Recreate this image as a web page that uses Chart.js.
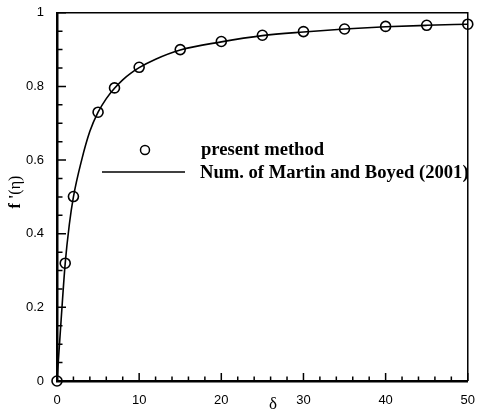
<!DOCTYPE html>
<html lang="en">
<head>
  <meta charset="UTF-8">
  <title>f'(eta) vs delta</title>
  <script src="https://cdn.jsdelivr.net/npm/chart.js@4.4.0/dist/chart.umd.min.js"></script>
  <style>
    body { margin: 0; background: #fff; }
    .chart-container { width: 479px; height: 419px; position: relative; }
  </style>
</head>
<body>
  <div class="chart-container">
    <canvas id="fpChart"></canvas>
  </div>

  <script>
    // circles: present method
    const presentX = [0, 1, 2, 5, 7, 10, 15, 20, 25, 30, 35, 40, 45, 50];
    const presentY = [0, 0.32, 0.501, 0.73, 0.796, 0.852, 0.9, 0.922, 0.939, 0.949, 0.956, 0.963, 0.966, 0.969];

    // solid line: Martin and Boyed (2001)
    const martinX = [0, 0.5, 1, 1.5, 2, 3, 4, 5, 6, 7, 8, 9, 10, 12, 15, 20, 25, 30, 35, 40, 45, 50];
    const martinY = [0, 0.165, 0.32, 0.425, 0.5, 0.6, 0.678, 0.73, 0.767, 0.795, 0.818, 0.836, 0.851, 0.874, 0.899, 0.921, 0.938, 0.948, 0.956, 0.962, 0.966, 0.969];

    const xTicks = [0, 10, 20, 30, 40, 50];
    const xTickLabels = ['0', '10', '20', '30', '40', '50'];
    const yTicks = [0, 0.2, 0.4, 0.6, 0.8, 1];
    const yTickLabels = ['0', '0.2', '0.4', '0.6', '0.8', '1'];

    const legendLabels = ['present method', 'Num. of Martin and Boyed (2001)'];

    const toPts = (xs, ys) => xs.map((x, i) => ({ x: x, y: ys[i] }));

    // inward tick marks, titles and the legend
    const decorPlugin = {
      id: 'decor',
      afterDraw(chart) {
        const ctx = chart.ctx;
        const xs = chart.scales.x, ys = chart.scales.y;
        const a = chart.chartArea;
        ctx.save();
        ctx.strokeStyle = '#000';
        ctx.lineWidth = 1.5;
        ctx.beginPath();
        for (let v = 0; v <= 50; v += 2) {
          const px = xs.getPixelForValue(v);
          const len = v % 10 === 0 ? 8 : 4.5;
          ctx.moveTo(px, a.bottom);
          ctx.lineTo(px, a.bottom - len);
        }
        for (let i = 0; i <= 20; i++) {
          const v = i * 0.05;
          const py = ys.getPixelForValue(v);
          const len = i % 4 === 0 ? 9 : 5.5;
          ctx.moveTo(a.left, py);
          ctx.lineTo(a.left + len, py);
        }
        ctx.stroke();

        // top / right frame
        ctx.beginPath();
        ctx.moveTo(a.left, a.top);
        ctx.lineTo(a.right, a.top);
        ctx.lineTo(a.right, a.bottom);
        ctx.stroke();

        ctx.fillStyle = '#000';
        // x title
        ctx.font = '17px "Liberation Serif"';
        ctx.textAlign = 'center';
        ctx.textBaseline = 'middle';
        ctx.fillText('δ', 273, 405);

        // y title
        ctx.translate(16, 192);
        ctx.rotate(-Math.PI / 2);
        ctx.textAlign = 'left';
        const p1 = "f '";
        const p2 = '(η)';
        ctx.font = 'bold 16px "Liberation Serif"';
        const w1 = ctx.measureText(p1).width;
        ctx.font = '16px "Liberation Serif"';
        const w2 = ctx.measureText(p2).width;
        const sx = -(w1 + w2) / 2;
        ctx.font = 'bold 16px "Liberation Serif"';
        ctx.fillText(p1, sx, 0);
        ctx.font = '16px "Liberation Serif"';
        ctx.fillText(p2, sx + w1, 0);
        ctx.setTransform(1, 0, 0, 1, 0, 0);

        // legend
        ctx.lineWidth = 1.5;
        ctx.beginPath();
        ctx.arc(145, 150, 4.5, 0, Math.PI * 2);
        ctx.stroke();
        ctx.beginPath();
        ctx.moveTo(102, 172);
        ctx.lineTo(185, 172);
        ctx.stroke();
        ctx.font = 'bold 18.6px "Liberation Serif"';
        ctx.textAlign = 'left';
        ctx.textBaseline = 'alphabetic';
        ctx.fillText(legendLabels[0], 201, 155);
        ctx.fillText(legendLabels[1], 200, 178);
        ctx.restore();
      }
    };

    new Chart(document.getElementById('fpChart'), {
      type: 'scatter',
      data: {
        datasets: [
          {
            label: legendLabels[1],
            data: toPts(martinX, martinY),
            showLine: true,
            borderColor: '#000',
            borderWidth: 1.6,
            pointRadius: 0,
            cubicInterpolationMode: 'monotone',
            clip: false
          },
          {
            label: legendLabels[0],
            data: toPts(presentX, presentY),
            showLine: false,
            pointStyle: 'circle',
            pointRadius: 5,
            borderColor: '#000',
            backgroundColor: 'rgba(0,0,0,0)',
            borderWidth: 1.6,
            clip: false
          }
        ]
      },
      options: {
        responsive: true,
        maintainAspectRatio: false,
        animation: false,
        events: [],
        layout: { padding: { left: 0, right: 7, top: 12, bottom: 0 } },
        plugins: {
          legend: { display: false },
          tooltip: { enabled: false }
        },
        scales: {
          x: {
            type: 'linear',
            min: 0,
            max: 50,
            afterBuildTicks: s => { s.ticks = xTicks.map(v => ({ value: v })); },
            afterFit: s => { s.height = 38; },
            ticks: {
              color: '#000',
              padding: 4,
              maxRotation: 0,
              font: { family: '"Liberation Sans"', size: 13 },
              callback: v => xTickLabels[xTicks.indexOf(v)]
            },
            grid: { display: false },
            border: { display: true, color: '#000', width: 2.5 }
          },
          y: {
            type: 'linear',
            min: 0,
            max: 1,
            afterBuildTicks: s => { s.ticks = yTicks.map(v => ({ value: v })); },
            afterFit: s => { s.width = 57; },
            ticks: {
              color: '#000',
              padding: 5,
              font: { family: '"Liberation Sans"', size: 13 },
              callback: v => yTickLabels[yTicks.indexOf(v)]
            },
            grid: { display: false },
            border: { display: true, color: '#000', width: 2.5 }
          }
        }
      },
      plugins: [decorPlugin]
    });
  </script>
</body>
</html>
